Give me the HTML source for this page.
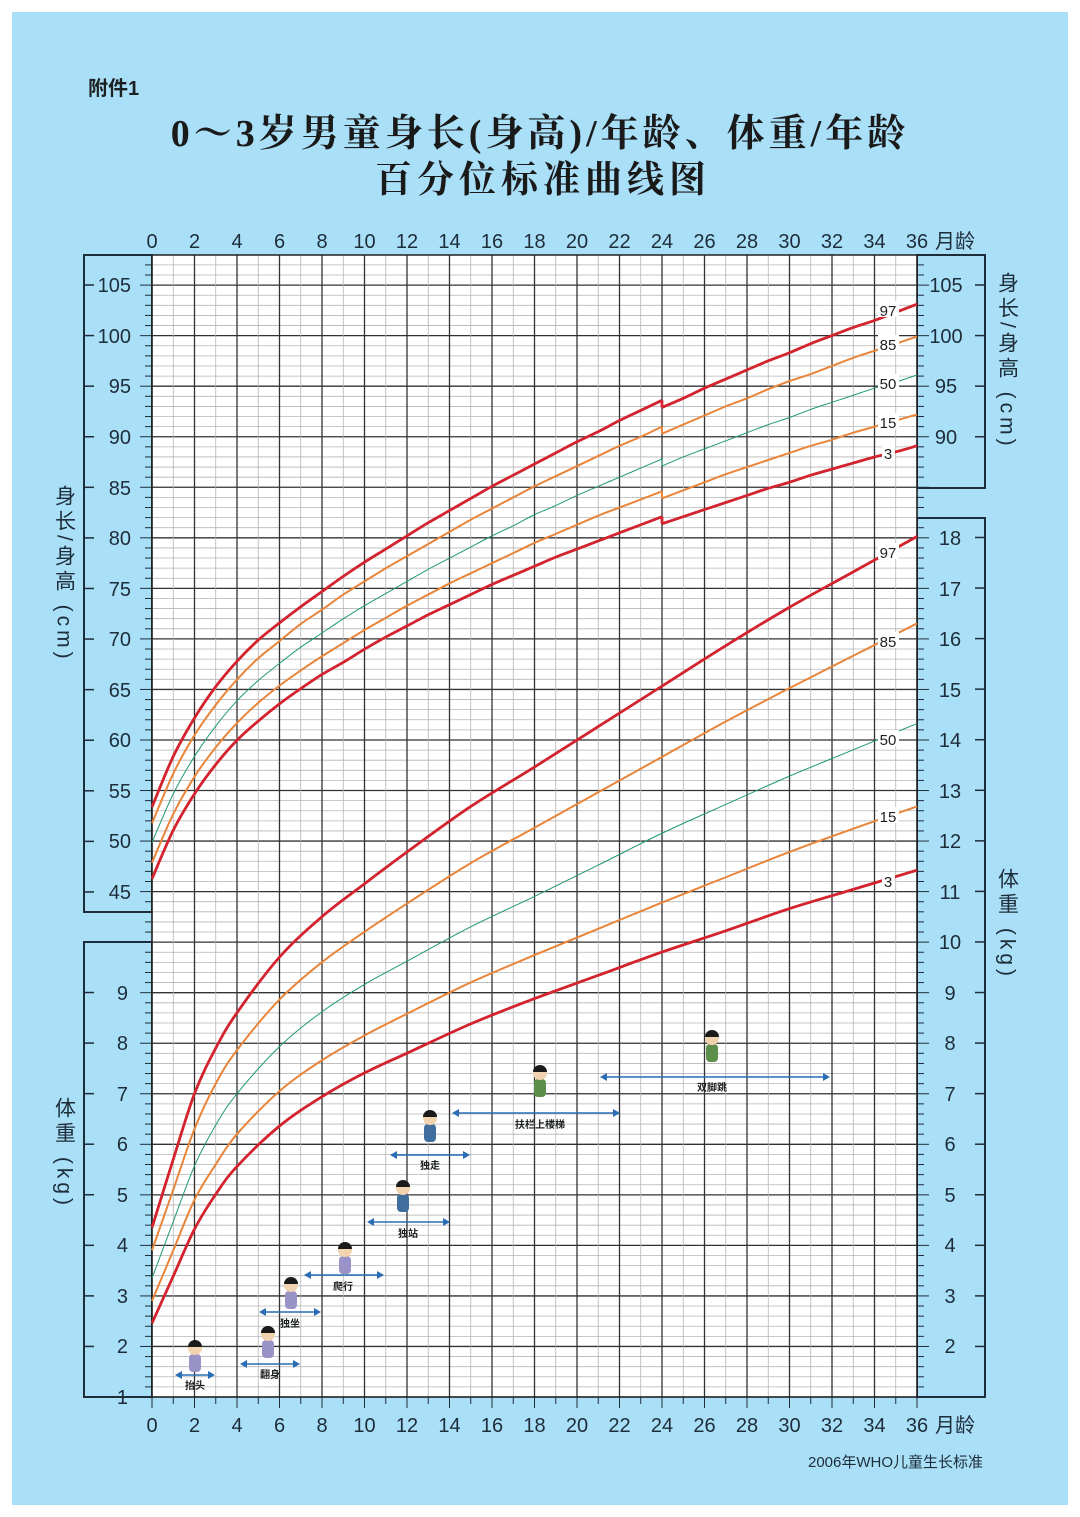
<!DOCTYPE html>
<html><head><meta charset="utf-8">
<style>
html,body{margin:0;padding:0;background:#fff;}
body{width:1080px;height:1517px;position:relative;overflow:hidden;}
svg{position:absolute;left:0;top:0;}
</style></head>
<body>
<svg id="s" width="1080" height="1517" viewBox="0 0 1080 1517" xmlns="http://www.w3.org/2000/svg" font-family="Liberation Sans, Noto Sans CJK SC, sans-serif">
<rect x="12" y="12" width="1056" height="1493" fill="#aadff8"/>
<rect x="84" y="255" width="68" height="657" fill="none" stroke="#1d2d3a" stroke-width="2"/>
<rect x="84" y="942" width="68" height="455" fill="none" stroke="#1d2d3a" stroke-width="2"/>
<rect x="917" y="255" width="68" height="233" fill="none" stroke="#1d2d3a" stroke-width="2"/>
<rect x="917" y="518" width="68" height="879" fill="none" stroke="#1d2d3a" stroke-width="2"/>
<rect x="152" y="255" width="765" height="1142" fill="#fff"/>
<g id="grid"></g>
<g id="curves"></g>
<g id="ms"></g>
<text x="88" y="95" font-size="20" font-weight="bold" fill="#1d2020" font-family="Liberation Sans, Noto Sans CJK SC, sans-serif">附件1</text>
<text x="540" y="146" font-size="38" text-anchor="middle" fill="#1a1a1a" letter-spacing="4" font-family="Liberation Serif, Noto Serif CJK SC, serif" font-weight="bold">0～3岁男童身长(身高)/年龄、体重/年龄</text>
<text x="543" y="192" font-size="37" text-anchor="middle" fill="#1a1a1a" letter-spacing="5" font-family="Liberation Serif, Noto Serif CJK SC, serif" font-weight="bold">百分位标准曲线图</text>
<g font-size="20" fill="#1d2d3a" text-anchor="middle">
<text x="152" y="248">0</text><text x="194.5" y="248">2</text><text x="237" y="248">4</text><text x="279.5" y="248">6</text><text x="322" y="248">8</text><text x="364.5" y="248">10</text><text x="407" y="248">12</text><text x="449.5" y="248">14</text><text x="492" y="248">16</text><text x="534.5" y="248">18</text><text x="577" y="248">20</text><text x="619.5" y="248">22</text><text x="662" y="248">24</text><text x="704.5" y="248">26</text><text x="747" y="248">28</text><text x="789.5" y="248">30</text><text x="832" y="248">32</text><text x="874.5" y="248">34</text><text x="917" y="248">36</text>
<text x="152" y="1432">0</text><text x="194.5" y="1432">2</text><text x="237" y="1432">4</text><text x="279.5" y="1432">6</text><text x="322" y="1432">8</text><text x="364.5" y="1432">10</text><text x="407" y="1432">12</text><text x="449.5" y="1432">14</text><text x="492" y="1432">16</text><text x="534.5" y="1432">18</text><text x="577" y="1432">20</text><text x="619.5" y="1432">22</text><text x="662" y="1432">24</text><text x="704.5" y="1432">26</text><text x="747" y="1432">28</text><text x="789.5" y="1432">30</text><text x="832" y="1432">32</text><text x="874.5" y="1432">34</text><text x="917" y="1432">36</text>
</g>
<text x="935" y="248" font-size="20" fill="#1d2d3a">月龄</text>
<text x="935" y="1432" font-size="20" fill="#1d2d3a">月龄</text>
<g font-size="20" fill="#1d2d3a" text-anchor="end">
<text x="131" y="292">105</text><text x="131" y="343">100</text><text x="131" y="393">95</text><text x="131" y="444">90</text><text x="131" y="495">85</text><text x="131" y="545">80</text><text x="131" y="596">75</text><text x="131" y="646">70</text><text x="131" y="697">65</text><text x="131" y="747">60</text><text x="131" y="798">55</text><text x="131" y="848">50</text><text x="131" y="899">45</text>
<text x="128" y="1000">9</text><text x="128" y="1050">8</text><text x="128" y="1101">7</text><text x="128" y="1151">6</text><text x="128" y="1202">5</text><text x="128" y="1252">4</text><text x="128" y="1303">3</text><text x="128" y="1353">2</text><text x="128" y="1404">1</text>
</g>
<g font-size="20" fill="#1d2d3a" text-anchor="middle">
<text x="946" y="292">105</text><text x="946" y="343">100</text><text x="946" y="393">95</text><text x="946" y="444">90</text>
<text x="950" y="545">18</text><text x="950" y="596">17</text><text x="950" y="646">16</text><text x="950" y="697">15</text><text x="950" y="747">14</text><text x="950" y="798">13</text><text x="950" y="848">12</text><text x="950" y="899">11</text><text x="950" y="949">10</text><text x="950" y="1000">9</text><text x="950" y="1050">8</text><text x="950" y="1101">7</text><text x="950" y="1151">6</text><text x="950" y="1202">5</text><text x="950" y="1252">4</text><text x="950" y="1303">3</text><text x="950" y="1353">2</text>
</g>
<g font-size="21" fill="#1d2d3a" font-family="Liberation Sans, Noto Sans CJK SC, sans-serif">
<text x="64" y="485" style="writing-mode:vertical-rl" letter-spacing="4">身长/身高 (cm)</text>
<text x="64" y="1097" style="writing-mode:vertical-rl" letter-spacing="4">体重 (kg)</text>
<text x="1007" y="272" style="writing-mode:vertical-rl" letter-spacing="4">身长/身高 (cm)</text>
<text x="1007" y="868" style="writing-mode:vertical-rl" letter-spacing="4">体重 (kg)</text>
</g>
<text x="808" y="1467" font-size="15" fill="#1d2d3a">2006年WHO儿童生长标准</text>
<g id="lbl" font-size="15" fill="#1d2020" text-anchor="middle">
<rect x="878" y="301" width="21" height="16" fill="#fff"/><text x="888" y="316">97</text>
<rect x="878" y="335" width="21" height="16" fill="#fff"/><text x="888" y="350">85</text>
<rect x="878" y="374" width="21" height="16" fill="#fff"/><text x="888" y="389">50</text>
<rect x="878" y="413" width="21" height="16" fill="#fff"/><text x="888" y="428">15</text>
<rect x="882" y="444" width="13" height="16" fill="#fff"/><text x="888" y="459">3</text>
<rect x="878" y="543" width="21" height="16" fill="#fff"/><text x="888" y="558">97</text>
<rect x="878" y="632" width="21" height="16" fill="#fff"/><text x="888" y="647">85</text>
<rect x="878" y="730" width="21" height="16" fill="#fff"/><text x="888" y="745">50</text>
<rect x="878" y="807" width="21" height="16" fill="#fff"/><text x="888" y="822">15</text>
<rect x="882" y="872" width="13" height="16" fill="#fff"/><text x="888" y="887">3</text>
</g>
<g font-size="10" font-weight="bold" fill="#1d2020" text-anchor="middle">
<text x="195" y="1389">抬头</text><text x="270" y="1378">翻身</text><text x="290" y="1327">独坐</text><text x="343" y="1290">爬行</text><text x="408" y="1237">独站</text><text x="430" y="1169">独走</text><text x="540" y="1128">扶栏上楼梯</text><text x="712" y="1091">双脚跳</text>
</g>
</svg>
<script>
const NS="http://www.w3.org/2000/svg";
function el(p,t,a){const e=document.createElementNS(NS,t);for(const k in a)e.setAttribute(k,a[k]);p.appendChild(e);return e;}
const X=m=>152+m*21.25, Hy=h=>892-(h-45)*10.117, Wy=w=>1397-(w-1)*50.56;
const g=document.getElementById('grid');
for(let k=0;k<=113;k++){const y=1397-k*10.108;const maj=k%5==0;
 el(g,'line',{x1:152,x2:917,y1:y,y2:y,stroke:maj?'#333':'#b5b5b5','stroke-width':maj?1.3:0.8});
 el(g,'line',{x1:maj?140:145,x2:152,y1:y,y2:y,stroke:'#1d2d3a','stroke-width':1});
 el(g,'line',{x1:917,x2:maj?929:924,y1:y,y2:y,stroke:'#1d2d3a','stroke-width':1});
}
for(let m=0;m<=36;m++){const x=X(m);const maj=m%2==0;
 el(g,'line',{x1:x,x2:x,y1:255,y2:1397,stroke:maj?'#333':'#b5b5b5','stroke-width':maj?1.3:0.8});
 el(g,'line',{x1:x,x2:x,y1:1397,y2:maj?1408:1404,stroke:'#1d2d3a','stroke-width':1});
}
for(let i=0;i<13;i++){const y=285+i*50.58;el(g,'line',{x1:84,x2:94,y1:y,y2:y,stroke:'#1d2d3a','stroke-width':1.5});}
for(let n=1;n<=9;n++){const y=Wy(n);el(g,'line',{x1:84,x2:94,y1:y,y2:y,stroke:'#1d2d3a','stroke-width':1.5});}
for(let i=0;i<4;i++){const y=Hy(105-5*i);el(g,'line',{x1:975,x2:985,y1:y,y2:y,stroke:'#1d2d3a','stroke-width':1.5});}
for(let n=2;n<=18;n++){const y=Wy(n);el(g,'line',{x1:975,x2:985,y1:y,y2:y,stroke:'#1d2d3a','stroke-width':1.5});}
el(g,'rect',{x:152,y:255,width:765,height:1142,fill:'none',stroke:'#222','stroke-width':1.5});

const L=[[46.3,47.9,49.9,51.8,53.4],[51.1,52.7,54.7,56.7,58.4],[54.7,56.4,58.4,60.5,62.2],[57.6,59.3,61.4,63.5,65.3],[60.0,61.7,63.9,66.0,67.8],[61.9,63.7,65.9,68.1,69.9],[63.6,65.4,67.6,69.8,71.6],[65.1,66.9,69.2,71.5,73.2],[66.5,68.3,70.6,72.9,74.7],[67.7,69.6,72.0,74.4,76.2],[69.0,70.9,73.3,75.7,77.6],[70.2,72.1,74.5,77.0,78.9],[71.3,73.3,75.7,78.2,80.2],[72.4,74.4,76.9,79.4,81.5],[73.4,75.5,78.0,80.6,82.7],[74.4,76.5,79.1,81.8,83.9],[75.4,77.5,80.2,82.9,85.1],[76.3,78.5,81.2,84.0,86.2],[77.2,79.5,82.3,85.1,87.3],[78.1,80.4,83.2,86.1,88.4],[78.9,81.3,84.2,87.1,89.5],[79.7,82.2,85.1,88.1,90.5],[80.5,83.0,86.0,89.1,91.6],[81.3,83.8,86.9,90.0,92.6],[82.1,84.6,87.8,91.0,93.6]];
const H=[[81.4,83.9,87.1,90.3,92.9],[82.1,84.7,88.0,91.2,93.8],[82.8,85.5,88.8,92.1,94.8],[83.5,86.3,89.6,93.0,95.7],[84.2,87.0,90.4,93.8,96.6],[84.9,87.7,91.2,94.7,97.5],[85.5,88.4,91.9,95.5,98.3],[86.2,89.1,92.7,96.2,99.2],[86.8,89.7,93.4,97.0,100.0],[87.4,90.4,94.1,97.8,100.8],[88.0,91.0,94.8,98.5,101.5],[88.5,91.6,95.4,99.2,102.3],[89.1,92.2,96.1,99.9,103.1]];
// sparse weight knots: month -> [P3,P15,P50,P85,P97]
const WK={0:[2.46,2.9,3.35,3.9,4.35],1:[3.39,3.9,4.47,5.1,5.7],2:[4.32,4.9,5.57,6.3,7.0],3:[5.01,5.6,6.38,7.2,7.9],4:[5.56,6.2,7.0,7.86,8.6],6:[6.36,7.05,7.93,8.86,9.7],8:[6.94,7.66,8.62,9.6,10.5],10:[7.41,8.15,9.16,10.2,11.15],12:[7.8,8.58,9.62,10.76,11.78],15:[8.38,9.2,10.3,11.56,12.68],18:[8.88,9.74,10.9,12.26,13.46],21:[9.34,10.26,11.52,12.96,14.26],24:[9.8,10.78,12.15,13.66,15.06],27:[10.22,11.28,12.72,14.36,15.86],30:[10.66,11.78,13.28,15.02,16.62],33:[11.04,12.24,13.8,15.66,17.32],36:[11.42,12.68,14.32,16.3,18.02]};
const wk=[0,1,2,3,4,6,8,10,12,15,18,21,24,27,30,33,36];
const col=['#d2232e','#e8853a','#1f9a6a','#e8853a','#d2232e'], wid=[2.8,2,1,2,2.8];
const c=document.getElementById('curves');
function path(pts){let d='M'+pts[0][0]+','+pts[0][1];for(let i=0;i<pts.length-1;i++){const p0=pts[Math.max(0,i-1)],p1=pts[i],p2=pts[i+1],p3=pts[Math.min(pts.length-1,i+2)];
 d+=' C'+(p1[0]+(p2[0]-p0[0])/6)+','+(p1[1]+(p2[1]-p0[1])/6)+' '+(p2[0]-(p3[0]-p1[0])/6)+','+(p2[1]-(p3[1]-p1[1])/6)+' '+p2[0]+','+p2[1];}return d;}
for(let j=0;j<5;j++){
 el(c,'path',{d:path(L.map((r,m)=>[X(m),Hy(r[j])])),fill:'none',stroke:col[j],'stroke-width':wid[j]});
 el(c,'path',{d:path(H.map((r,m)=>[X(m+24),Hy(r[j])])),fill:'none',stroke:col[j],'stroke-width':wid[j]});
 el(c,'line',{x1:X(24),x2:X(24),y1:Hy(L[24][j]),y2:Hy(H[0][j]),stroke:col[j],'stroke-width':wid[j]});
 el(c,'path',{d:path(wk.map(m=>[X(m),Wy(WK[m][j])])),fill:'none',stroke:col[j],'stroke-width':wid[j]});
}
const ms=document.getElementById('ms');
const arr=[[175,215,1375],[240,300,1364],[259,321,1312],[304,384,1275],[367,450,1222],[390,470,1155],[452,620,1113],[600,830,1077]];
arr.forEach(a=>{el(ms,'line',{x1:a[0]+5,x2:a[1]-5,y1:a[2],y2:a[2],stroke:'#2a6db5','stroke-width':1.6});
 el(ms,'path',{d:`M${a[0]},${a[2]} l7,-4 v8z M${a[1]},${a[2]} l-7,-4 v8z`,fill:'#2a6db5'});});
const figs=[[195,1360,'#9a93c8'],[268,1346,'#9a93c8'],[291,1297,'#9a93c8'],[345,1262,'#9a93c8'],[403,1200,'#3f6e9e'],[430,1130,'#3f6e9e'],[540,1085,'#5e8f4a'],[712,1050,'#5e8f4a']];
figs.forEach(f=>{el(ms,'rect',{x:f[0]-6,y:f[1]-6,width:12,height:18,rx:4,fill:f[2]});
 el(ms,'circle',{cx:f[0],cy:f[1]-12,r:7,fill:'#f2d3b0'});el(ms,'path',{d:`M${f[0]-7},${f[1]-13} a7,7 0 0 1 14,0z`,fill:'#1a1a1a'});});
</script>
</body></html>
